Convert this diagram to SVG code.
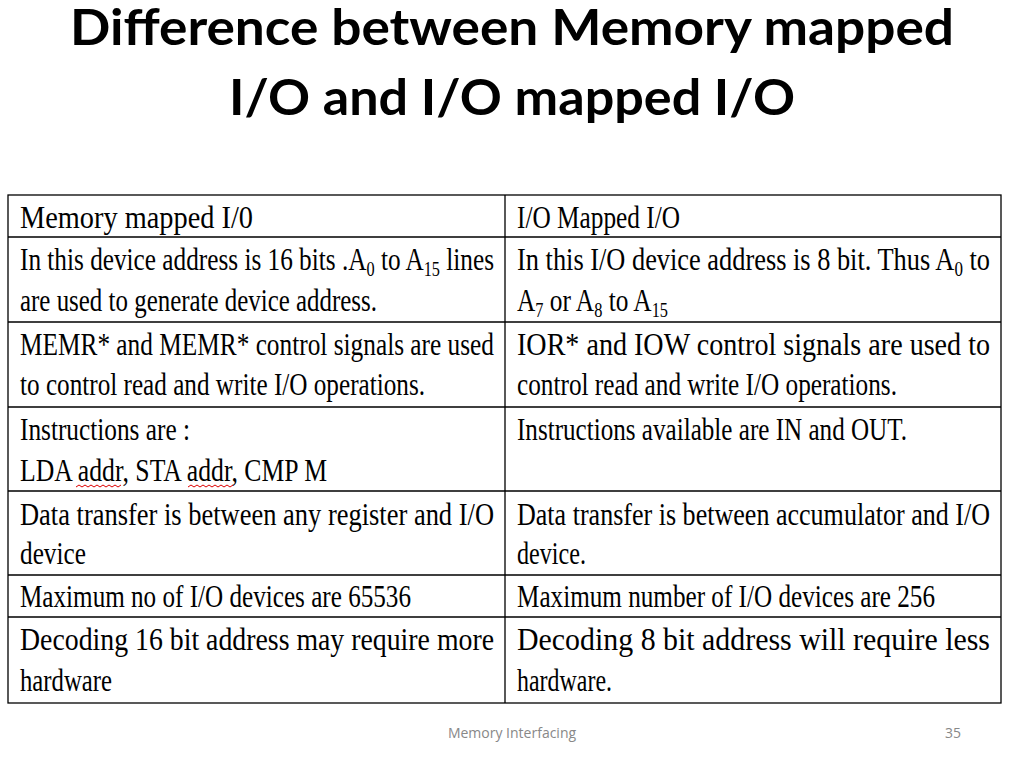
<svg xmlns="http://www.w3.org/2000/svg" width="1024" height="768" viewBox="0 0 1024 768">
<style>
.t{font-family:Lato,"Liberation Sans",Arial,sans-serif;font-weight:bold;font-size:50px;fill:#000;text-anchor:middle}
.c{font-family:"Liberation Serif","Times New Roman",serif;font-size:31px;fill:#000}
.s{font-size:20px}
.f{font-family:"Open Sans","Liberation Sans",sans-serif;font-size:14px;fill:#888}
.g{stroke:#000;stroke-width:1.3;fill:none}
.w{stroke:#d00;stroke-width:1;fill:none}
</style>
<rect width="1024" height="768" fill="#fff"/>
<text class="t" x="512" y="45" textLength="884" lengthAdjust="spacingAndGlyphs">Difference between Memory mapped</text>
<text class="t" x="512" y="115" textLength="566" lengthAdjust="spacingAndGlyphs">I/O and I/O mapped I/O</text>
<g id="table">
<rect class="g" x="8" y="195" width="993" height="508"/>
<path class="g" d="M505 195V703M8 237H1001M8 322H1001M8 407H1001M8 491H1001M8 575H1001M8 617H1001"/>
<text class="c" x="20" y="228" textLength="233" lengthAdjust="spacingAndGlyphs">Memory mapped I/0</text>
<text class="c" x="517" y="228" textLength="163" lengthAdjust="spacingAndGlyphs">I/O Mapped I/O</text>
<text class="c" x="20" y="270" textLength="474" lengthAdjust="spacingAndGlyphs">In this device address is 16 bits .A<tspan class="s" dy="6">0</tspan><tspan dy="-6"> to A</tspan><tspan class="s" dy="6">15</tspan><tspan dy="-6"> lines</tspan></text>
<text class="c" x="20" y="311" textLength="357" lengthAdjust="spacingAndGlyphs">are used to generate device address.</text>
<text class="c" x="517" y="270" textLength="473" lengthAdjust="spacingAndGlyphs">In this I/O device address is 8 bit. Thus A<tspan class="s" dy="6">0</tspan><tspan dy="-6"> to</tspan></text>
<text class="c" x="517" y="311" textLength="151" lengthAdjust="spacingAndGlyphs">A<tspan class="s" dy="6">7</tspan><tspan dy="-6"> or A</tspan><tspan class="s" dy="6">8</tspan><tspan dy="-6"> to A</tspan><tspan class="s" dy="6">15</tspan></text>
<text class="c" x="20" y="355" textLength="474" lengthAdjust="spacingAndGlyphs">MEMR* and MEMR* control signals are used</text>
<text class="c" x="20" y="395" textLength="405" lengthAdjust="spacingAndGlyphs">to control read and write I/O operations.</text>
<text class="c" x="517" y="355" textLength="473" lengthAdjust="spacingAndGlyphs">IOR* and IOW control signals are used to</text>
<text class="c" x="517" y="395" textLength="380" lengthAdjust="spacingAndGlyphs">control read and write I/O operations.</text>
<text class="c" x="20" y="440" textLength="170" lengthAdjust="spacingAndGlyphs">Instructions are :</text>
<text class="c" x="20" y="481" textLength="307" lengthAdjust="spacingAndGlyphs">LDA addr, STA addr, CMP M</text>
<path class="w" d="M76 487l3 -2 3 2 3 -2 3 2 3 -2 3 2 3 -2 3 2 3 -2 3 2 3 -2 3 2 3 -2 3 2 3 -2M188 487l3 -2 3 2 3 -2 3 2 3 -2 3 2 3 -2 3 2 3 -2 3 2 3 -2 3 2 3 -2 3 2 3 -2"/>
<text class="c" x="517" y="440" textLength="390" lengthAdjust="spacingAndGlyphs">Instructions available are IN and OUT.</text>
<text class="c" x="20" y="525" textLength="474" lengthAdjust="spacingAndGlyphs">Data transfer is between any register and I/O</text>
<text class="c" x="20" y="564" textLength="66" lengthAdjust="spacingAndGlyphs">device</text>
<text class="c" x="517" y="525" textLength="473" lengthAdjust="spacingAndGlyphs">Data transfer is between accumulator and I/O</text>
<text class="c" x="517" y="564" textLength="69" lengthAdjust="spacingAndGlyphs">device.</text>
<text class="c" x="20" y="607" textLength="391" lengthAdjust="spacingAndGlyphs">Maximum no of I/O devices are 65536</text>
<text class="c" x="517" y="607" textLength="418" lengthAdjust="spacingAndGlyphs">Maximum number of I/O devices are 256</text>
<text class="c" x="20" y="650" textLength="474" lengthAdjust="spacingAndGlyphs">Decoding 16 bit address may require more</text>
<text class="c" x="20" y="691" textLength="92" lengthAdjust="spacingAndGlyphs">hardware</text>
<text class="c" x="517" y="650" textLength="473" lengthAdjust="spacingAndGlyphs">Decoding 8 bit address will require less</text>
<text class="c" x="517" y="691" textLength="95" lengthAdjust="spacingAndGlyphs">hardware.</text>
</g>
<text class="f" x="512" y="738" text-anchor="middle">Memory Interfacing</text>
<text class="f" x="953" y="738" text-anchor="middle">35</text>
</svg>
